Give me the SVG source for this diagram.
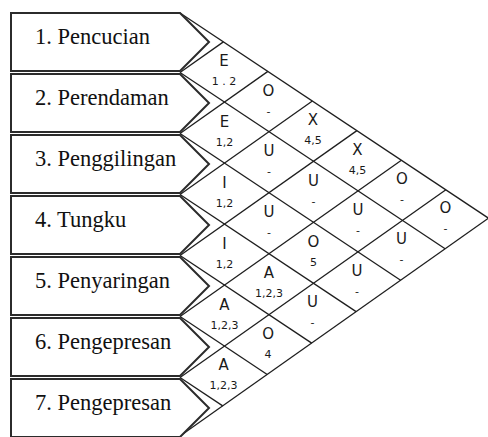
<svg xmlns="http://www.w3.org/2000/svg" width="488" height="437" viewBox="0 0 488 437">
<style>
.box{fill:#fff;stroke:#2b2b2b;stroke-width:2;stroke-linejoin:miter}
.name{font-family:"Liberation Serif","Times New Roman",serif;font-size:22.5px;fill:#111}
.grid line{stroke:#1e1e1e;stroke-width:1.3}
.l{font-family:"DejaVu Sans","Liberation Sans",sans-serif;font-size:15px;fill:#1a1a1a;text-anchor:middle}
.n{font-family:"DejaVu Sans","Liberation Sans",sans-serif;font-size:11px;fill:#1a1a1a;text-anchor:middle}
</style>
<rect width="488" height="437" fill="#fff"/>
<g id="connectors" class="grid">
<line x1="180" y1="13" x2="488.5" y2="218.2"/>
<line x1="180" y1="72.5" x2="445.1" y2="248.8"/>
<line x1="180" y1="133.5" x2="400.6" y2="280.2"/>
<line x1="180" y1="194.5" x2="356.1" y2="311.6"/>
<line x1="180" y1="255.5" x2="311.7" y2="343.1"/>
<line x1="180" y1="316.5" x2="267.2" y2="374.5"/>
<line x1="180" y1="377.5" x2="222.7" y2="405.9"/>
<line x1="180" y1="72.5" x2="223.4" y2="41.9"/>
<line x1="180" y1="133.5" x2="267.9" y2="71.4"/>
<line x1="180" y1="194.5" x2="312.4" y2="101.0"/>
<line x1="180" y1="255.5" x2="356.9" y2="130.6"/>
<line x1="180" y1="316.5" x2="401.4" y2="160.2"/>
<line x1="180" y1="377.5" x2="445.9" y2="189.8"/>
<line x1="180" y1="436" x2="488.5" y2="218.2"/>
</g>
<g id="node1"><path class="box" d="M11 13H180L209 42L180 71H11Z"/><text class="name" x="35" y="44">1. Pencucian</text></g>
<g id="node2"><path class="box" d="M11 74H180L209 103L180 132H11Z"/><text class="name" x="35" y="105">2. Perendaman</text></g>
<g id="node3"><path class="box" d="M11 135H180L209 164L180 193H11Z"/><text class="name" x="35" y="166">3. Penggilingan</text></g>
<g id="node4"><path class="box" d="M11 196H180L209 225L180 254H11Z"/><text class="name" x="35" y="227">4. Tungku</text></g>
<g id="node5"><path class="box" d="M11 257H180L209 286L180 315H11Z"/><text class="name" x="35" y="288">5. Penyaringan</text></g>
<g id="node6"><path class="box" d="M11 318H180L209 347L180 376H11Z"/><text class="name" x="35" y="349">6. Pengepresan</text></g>
<g id="node7"><path class="box" d="M11 379H180L209 408L180 437H11Z"/><text class="name" x="35" y="410">7. Pengepresan</text></g>
<g id="r12"><text class="l" x="224" y="66">E</text><text class="n" x="224" y="85">1 . 2</text></g>
<g id="r23"><text class="l" x="224.5" y="126.6">E</text><text class="n" x="224.5" y="145.6">1,2</text></g>
<g id="r34"><text class="l" x="224.5" y="187.6">I</text><text class="n" x="224.5" y="206.6">1,2</text></g>
<g id="r45"><text class="l" x="224.5" y="248.6">I</text><text class="n" x="224.5" y="267.6">1,2</text></g>
<g id="r56"><text class="l" x="224.5" y="309.6">A</text><text class="n" x="224.5" y="328.6">1,2,3</text></g>
<g id="r67"><text class="l" x="223.6" y="370">A</text><text class="n" x="223.6" y="389">1,2,3</text></g>
<g id="r13"><text class="l" x="268.5" y="95.6">O</text><text class="n" x="268.5" y="114.6">-</text></g>
<g id="r24"><text class="l" x="269" y="156.2">U</text><text class="n" x="269" y="175.2">-</text></g>
<g id="r35"><text class="l" x="269" y="217.2">U</text><text class="n" x="269" y="236.2">-</text></g>
<g id="r46"><text class="l" x="269" y="278.2">A</text><text class="n" x="269" y="297.2">1,2,3</text></g>
<g id="r57"><text class="l" x="268.1" y="338.6">O</text><text class="n" x="268.1" y="357.6">4</text></g>
<g id="r14"><text class="l" x="313" y="125.2">X</text><text class="n" x="313" y="144.2">4,5</text></g>
<g id="r25"><text class="l" x="313.5" y="185.8">U</text><text class="n" x="313.5" y="204.8">-</text></g>
<g id="r36"><text class="l" x="313.5" y="246.8">O</text><text class="n" x="313.5" y="265.8">5</text></g>
<g id="r47"><text class="l" x="312.6" y="307.2">U</text><text class="n" x="312.6" y="326.2">-</text></g>
<g id="r15"><text class="l" x="357.5" y="154.7">X</text><text class="n" x="357.5" y="173.7">4,5</text></g>
<g id="r26"><text class="l" x="358" y="215.3">U</text><text class="n" x="358" y="234.3">-</text></g>
<g id="r37"><text class="l" x="357.1" y="275.7">U</text><text class="n" x="357.1" y="294.7">-</text></g>
<g id="r16"><text class="l" x="402" y="184.3">O</text><text class="n" x="402" y="203.3">-</text></g>
<g id="r27"><text class="l" x="401.6" y="244.3">U</text><text class="n" x="401.6" y="263.3">-</text></g>
<g id="r17"><text class="l" x="445.5" y="213.3">O</text><text class="n" x="445.5" y="232.3">-</text></g>
</svg>
